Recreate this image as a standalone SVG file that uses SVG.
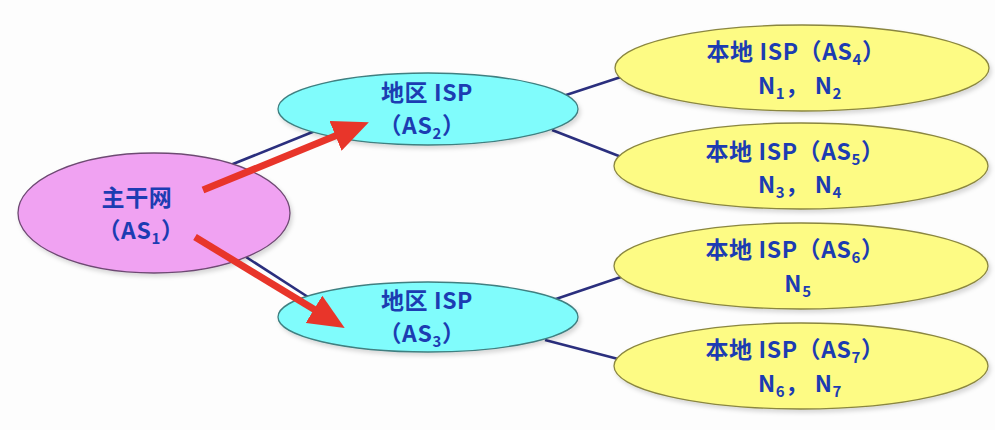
<svg xmlns="http://www.w3.org/2000/svg" width="995" height="430" viewBox="0 0 995 430">
<style>
.bg{fill:#fdfdfd}
.conn{stroke:#2b2f7e;stroke-width:2.6;fill:none}
.red{stroke:#e8352a;stroke-width:7;fill:none}
.bb{fill:#f0a2f2;stroke:#6e4a73;stroke-width:1.3}
.reg{fill:#80fcfc;stroke:#3f7f80;stroke-width:1.3}
.loc{fill:#fdfb84;stroke:#8a8640;stroke-width:1.3}
text{font-family:"Noto Sans CJK SC","Noto Sans",sans-serif;font-weight:bold;font-size:23px;letter-spacing:0.6px;fill:#1c3cb2;text-anchor:middle}
.sub{font-size:15px}
</style>
<defs>
<marker id="ah" markerUnits="userSpaceOnUse" markerWidth="36" markerHeight="32" viewBox="0 0 36 32" refX="14" refY="16" orient="auto">
<path d="M0,0 L36,16 L0,32 z" fill="#e8352a"/>
</marker>
<filter id="sh" x="-10%" y="-10%" width="120%" height="130%">
<feDropShadow dx="2" dy="3" stdDeviation="2" flood-color="#000" flood-opacity="0.15"/>
</filter>
</defs>
<rect class="bg" width="995" height="430"/>
<g id="connectors">
<line class="conn" x1="228" y1="166" x2="315" y2="131"/>
<line class="conn" x1="246" y1="257" x2="308" y2="297"/>
<line class="conn" x1="560" y1="97" x2="624" y2="76"/>
<line class="conn" x1="552" y1="130" x2="624" y2="158"/>
<line class="conn" x1="553" y1="300" x2="624" y2="276"/>
<line class="conn" x1="545" y1="340" x2="622" y2="360"/>
</g>
<g id="backbone">
<ellipse class="bb" filter="url(#sh)" cx="154" cy="213" rx="136" ry="60"/>
<text x="137" y="206">主干网</text>
<text x="141" y="239">（AS<tspan class="sub" dy="5">1</tspan><tspan dy="-5">）</tspan></text>
</g>
<g id="as2">
<ellipse class="reg" filter="url(#sh)" cx="428" cy="109" rx="150" ry="36"/>
<text x="427" y="101">地区 ISP</text>
<text x="422" y="134">（AS<tspan class="sub" dy="5">2</tspan><tspan dy="-5">）</tspan></text>
</g>
<g id="as3">
<ellipse class="reg" filter="url(#sh)" cx="428" cy="317" rx="150" ry="35"/>
<text x="427" y="309">地区 ISP</text>
<text x="422" y="342">（AS<tspan class="sub" dy="5">3</tspan><tspan dy="-5">）</tspan></text>
</g>
<g id="as4">
<ellipse class="loc" filter="url(#sh)" cx="802" cy="68" rx="187" ry="43"/>
<text x="796" y="60">本地 ISP（AS<tspan class="sub" dy="5">4</tspan><tspan dy="-5">）</tspan></text>
<text x="800" y="94">N<tspan class="sub" dy="5">1</tspan><tspan dy="-5">，  N</tspan><tspan class="sub" dy="5">2</tspan></text>
</g>
<g id="as5">
<ellipse class="loc" filter="url(#sh)" cx="801" cy="166" rx="187" ry="43"/>
<text x="795" y="160">本地 ISP（AS<tspan class="sub" dy="5">5</tspan><tspan dy="-5">）</tspan></text>
<text x="800" y="193">N<tspan class="sub" dy="5">3</tspan><tspan dy="-5">，  N</tspan><tspan class="sub" dy="5">4</tspan></text>
</g>
<g id="as6">
<ellipse class="loc" filter="url(#sh)" cx="801" cy="266" rx="187" ry="43"/>
<text x="795" y="258">本地 ISP（AS<tspan class="sub" dy="5">6</tspan><tspan dy="-5">）</tspan></text>
<text x="798" y="292">N<tspan class="sub" dy="5">5</tspan></text>
</g>
<g id="as7">
<ellipse class="loc" filter="url(#sh)" cx="801" cy="366" rx="187" ry="43"/>
<text x="795" y="358">本地 ISP（AS<tspan class="sub" dy="5">7</tspan><tspan dy="-5">）</tspan></text>
<text x="800" y="392">N<tspan class="sub" dy="5">6</tspan><tspan dy="-5">，  N</tspan><tspan class="sub" dy="5">7</tspan></text>
</g>
<g id="arrows">
<line class="red" x1="203" y1="190" x2="348.5" y2="130.6" marker-end="url(#ah)"/>
<line class="red" x1="195" y1="237" x2="325.9" y2="316.6" marker-end="url(#ah)"/>
</g>
</svg>
